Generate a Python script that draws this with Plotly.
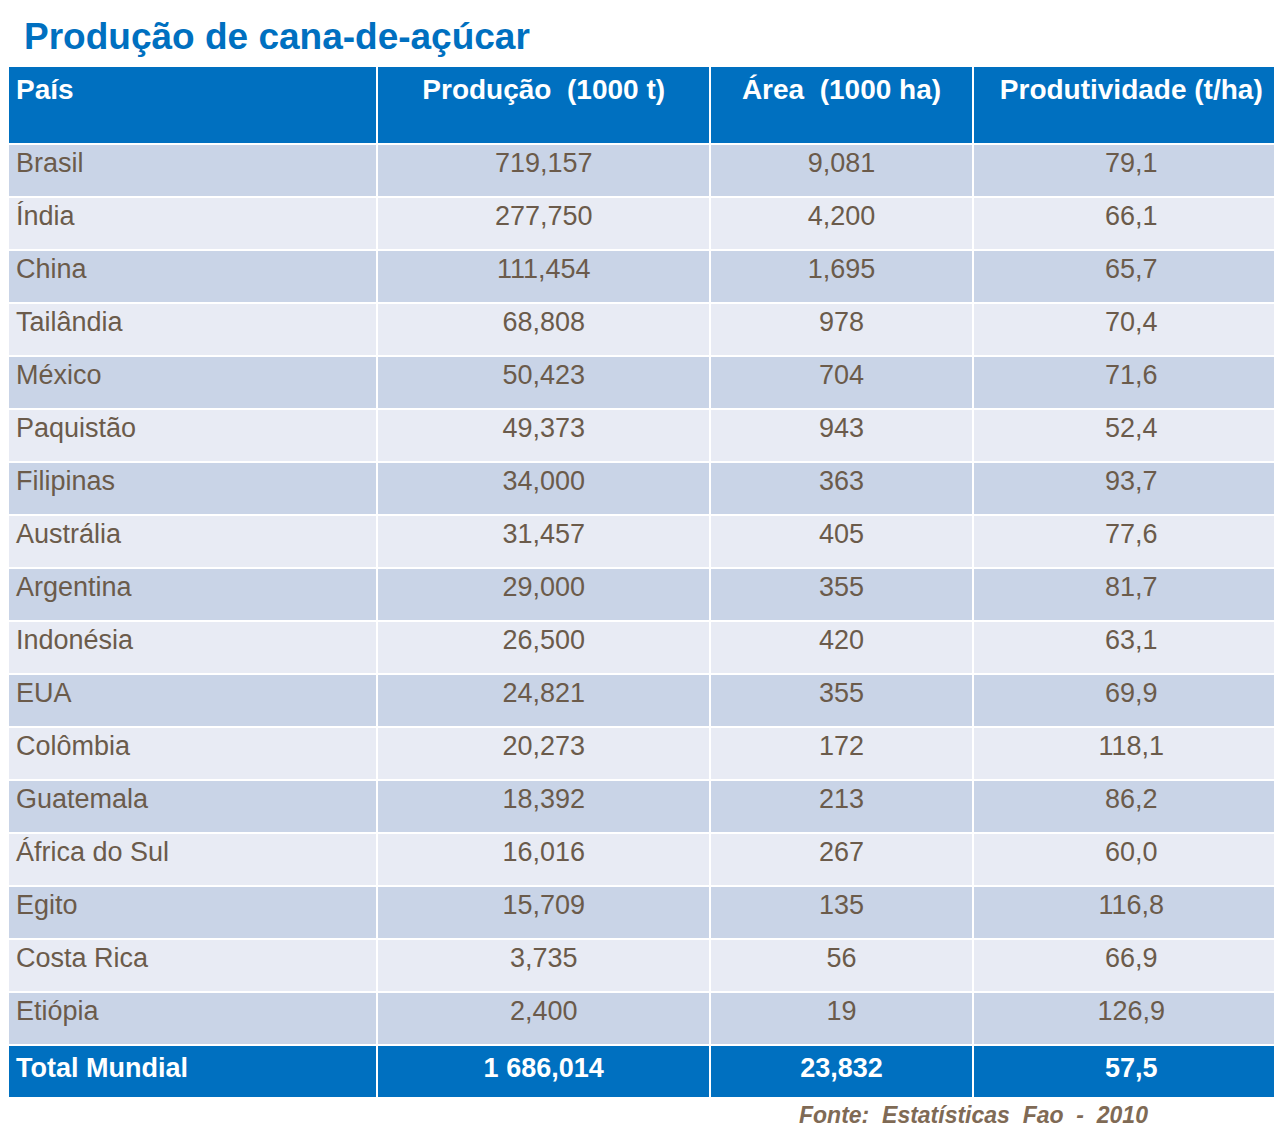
import plotly.graph_objects as go

paises = ["Brasil", "Índia", "China", "Tailândia", "México", "Paquistão", "Filipinas",
          "Austrália", "Argentina", "Indonésia", "EUA", "Colômbia", "Guatemala",
          "África do Sul", "Egito", "Costa Rica", "Etiópia"]
producao = ["719,157", "277,750", "111,454", "68,808", "50,423", "49,373", "34,000",
            "31,457", "29,000", "26,500", "24,821", "20,273", "18,392", "16,016",
            "15,709", "3,735", "2,400"]
area = ["9,081", "4,200", "1,695", "978", "704", "943", "363", "405", "355", "420",
        "355", "172", "213", "267", "135", "56", "19"]
produtividade = ["79,1", "66,1", "65,7", "70,4", "71,6", "52,4", "93,7", "77,6", "81,7",
                 "63,1", "69,9", "118,1", "86,2", "60,0", "116,8", "66,9", "126,9"]
total = ["Total Mundial", "1 686,014", "23,832", "57,5"]
headers = ["País", "Produção  (1000 t)", "Área  (1000 ha)", "Produtividade (t/ha)"]

blue = "#0070C0"
brown = "#6B5B4B"
n = len(paises)
row_fill = ["#C9D4E7" if i % 2 == 0 else "#E8EBF4" for i in range(n)] + [blue]
row_font = [brown] * n + ["white"]

cols = [paises, producao, area, produtividade]
values = [c + ["<b>" + t + "</b>"] for c, t in zip(cols, total)]

fig = go.Figure(go.Table(
    domain=dict(x=[0, 1], y=[1 - 1096 / 1145, 1 - 58 / 1145]),
    columnwidth=[366, 331, 260, 315],
    header=dict(
        values=["<b>" + h + "</b>" for h in headers],
        fill_color=blue, line=dict(color="white", width=2),
        font=dict(family="Liberation Sans, Arial", size=28, color="white"),
        align=["left", "center", "center", "center"], height=78),
    cells=dict(
        values=values,
        fill_color=[row_fill] * 4, line=dict(color="white", width=2),
        font=dict(family="Liberation Sans, Arial", size=27, color=[row_font] * 4),
        align=["left", "center", "center", "center"], height=53),
))

fig.add_annotation(text="<b>Produção de cana-de-açúcar</b>", x=14 / 1282, y=1 - 28 / 1145,
                   xref="paper", yref="paper", xanchor="left", yanchor="middle",
                   showarrow=False, font=dict(family="Liberation Sans, Arial", size=37, color=blue))
fig.add_annotation(text="<b><i>Fonte:  Estatísticas  Fao  -  2010</i></b>", x=1142 / 1282, y=1 - 1107 / 1145,
                   xref="paper", yref="paper", xanchor="right", yanchor="middle",
                   showarrow=False, font=dict(family="Liberation Sans, Arial", size=23, color="#7F6A55"))

fig.update_layout(width=1282, height=1145, margin=dict(l=0, r=0, t=0, b=0),
                  paper_bgcolor="white")
fig.write_html("out.html")
